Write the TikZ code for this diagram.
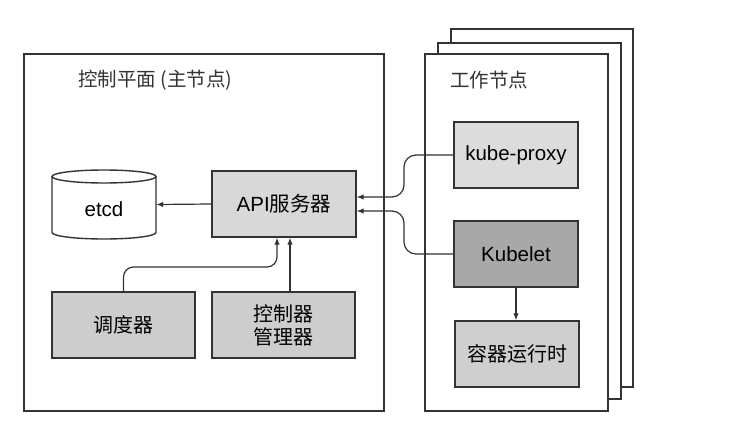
\documentclass[tikz,border=0pt]{standalone}
\usepackage{fontspec}
\setmainfont{Liberation Sans}
\newfontfamily\cjk{Noto Sans CJK SC}
\usetikzlibrary{arrows.meta,calc}
\definecolor{ln}{HTML}{333333}
\definecolor{fapi}{HTML}{D8D8D8}
\definecolor{fproxy}{HTML}{DCDCDC}
\definecolor{fsched}{HTML}{CDCDCD}
\definecolor{fkubelet}{HTML}{A8A8A8}
\definecolor{frt}{HTML}{CFCFCF}
\begin{document}
\begin{tikzpicture}[x=1pt,y=-1pt,
  panel/.style={draw=ln, line width=1.5pt, fill=white, inner sep=0pt},
  comp/.style={draw=ln, line width=1.4pt, inner sep=0pt, align=center,
    font=\fontsize{20.5}{23}\selectfont},
  cjkcomp/.style={comp, font=\fontsize{20}{23}\selectfont\cjk},
  title/.style={anchor=west, inner sep=0pt, font=\fontsize{19.5}{23}\selectfont\cjk, text=ln},
  arr/.style={draw=ln, line width=1.2pt, -{Latex[length=7pt,width=5.5pt]}},
  cyl/.style={draw=ln, line width=1.4pt, fill=white}]
\useasboundingbox (0,0) rectangle (746,425);

% control plane panel
\node[panel, minimum width=360, minimum height=357] (cp) at (204,232.5) {};
\node[title] (cptitle) at (78,80) {控制平面 (主节点)};

% worker stack
\node[panel, minimum width=182, minimum height=358] (wk3) at (542,208) {};
\node[panel, minimum width=183, minimum height=356] (wk2) at (529.5,221) {};
\node[panel, minimum width=183, minimum height=357] (wk1) at (516.5,232.5) {};
\node[title] (wktitle) at (450,80) {工作节点};

% etcd cylinder
\node[minimum width=104, minimum height=69, inner sep=0pt] (etcd) at (104,204.5) {};
\draw[cyl] (52,176.5) -- (52,232.5) arc[start angle=180, end angle=360, x radius=52pt, y radius=6.5pt] -- (156,176.5);
\draw[cyl] (104,176.5) ellipse [x radius=52pt, y radius=6.5pt];
\node[inner sep=0pt, font=\fontsize{20.5}{23}\selectfont] (etcdtext) at (104,209) {etcd};

% control plane components
\node[comp, fill=fapi, minimum width=144, minimum height=66] (api) at (284,204) {API{\cjk 服务器}};
\node[cjkcomp, fill=fsched, minimum width=143, minimum height=66] (sched) at (123.5,325) {调度器};
\node[cjkcomp, fill=fsched, minimum width=143, minimum height=66] (ctrl) at (283.5,325) {控制器\\管理器};

% worker components
\node[comp, fill=fproxy, minimum width=124, minimum height=66] (proxy) at (516,155) {kube-proxy};
\node[comp, fill=fkubelet, minimum width=124, minimum height=66] (kubelet) at (516,254) {Kubelet};
\node[cjkcomp, fill=frt, minimum width=124, minimum height=66] (rt) at (517,354) {容器运行时};

% connectors
\draw[arr] (api.west) -- (etcd.east);
\coordinate (s1) at (277,267);
\draw[arr, rounded corners=10] (sched.north) |- (s1) -- (s1 |- api.south);
\draw[arr] ([xshift=6.5pt]ctrl.north) -- ([xshift=6.5pt]ctrl.north |- api.south);
\coordinate (b1) at (404,197);
\coordinate (b2) at (404,211);
\draw[arr, rounded corners=12] (proxy.west) -| (b1) -- (b1 -| api.east);
\draw[arr, rounded corners=12] (kubelet.west) -| (b2) -- (b2 -| api.east);
\draw[arr] (kubelet.south) -- (kubelet.south |- rt.north);
\end{tikzpicture}
\end{document}
